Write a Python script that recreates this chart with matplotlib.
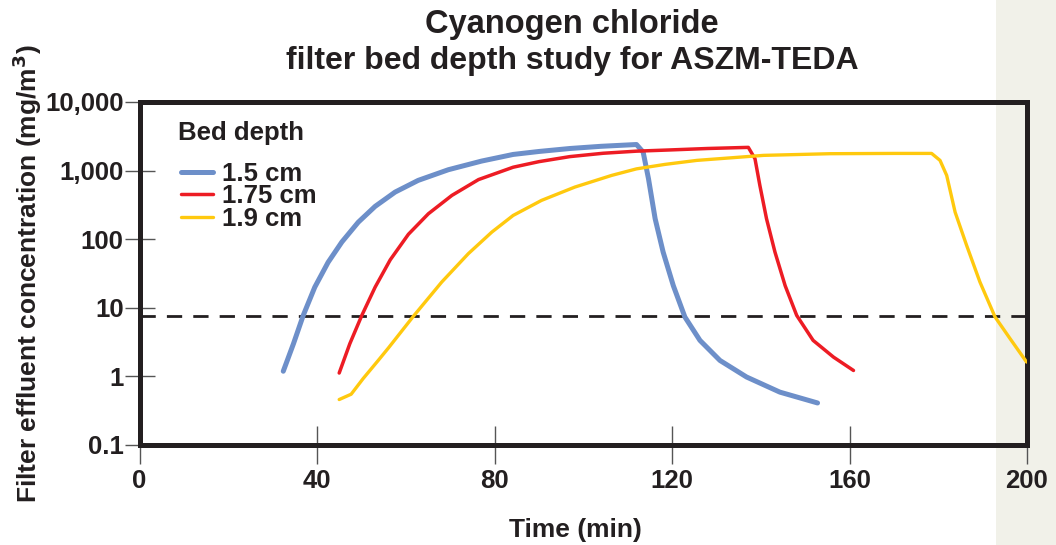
import numpy as np
import matplotlib
matplotlib.use("Agg")
import matplotlib.pyplot as plt
from matplotlib.patches import Rectangle

plt.rcParams['font.family'] = ['Liberation Sans', 'DejaVu Sans']
plt.rcParams['font.weight'] = 'bold'

# Data (time in min, concentration in mg/m3)
t_15 = [32.4, 34.7, 36.9, 39.5, 42.5, 45.6, 49.3, 53.1, 57.6, 62.8, 69.6, 77.1,
        84.2, 90.0, 97.0, 104.0, 112.0, 113.5, 114.7, 116.2, 118.0, 120.3,
        122.9, 126.3, 130.8, 136.8, 144.3, 152.8]
c_15 = [1.19, 3.0, 7.75, 20, 46, 91, 177, 301, 486, 720, 1030, 1377,
        1720, 1900, 2100, 2260, 2400, 1860, 762, 199, 65, 21,
        7.35, 3.35, 1.71, 0.98, 0.59, 0.41]

t_175 = [45.0, 47.4, 50.1, 53.1, 56.5, 60.6, 65.1, 70.4, 76.4, 84.2, 90.0,
         97.0, 104.5, 112.0, 119.5, 128.0, 137.2, 138.7, 139.8, 141.3, 143.2,
         145.5, 148.1, 151.8, 156.4, 160.9]
c_175 = [1.12, 3.0, 7.75, 20, 50, 118, 235, 435, 740, 1120, 1350,
         1600, 1790, 1920, 2000, 2100, 2180, 1490, 608, 199, 65,
         21, 7.75, 3.35, 1.91, 1.22]

t_19 = [45.0, 47.7, 50.4, 53.8, 56.1, 61.7, 68.1, 74.1, 79.4, 84.2,
        90.6, 98.1, 106.4, 112.0, 118.4, 125.6, 140.6, 155.6, 170.0, 178.5,
        180.4, 181.9, 183.8, 186.4, 189.4, 192.8, 196.2, 199.9]
c_19 = [0.46, 0.55, 0.93, 1.71, 2.6, 7.5, 23.7, 61.5, 127, 222,
        368, 575, 851, 1060, 1231, 1409, 1667, 1763, 1780, 1780,
        1409, 851, 248, 81, 23.7, 7.35, 3.54, 1.62]

threshold = 7.5
y_ticks = [0.1, 1, 10, 100, 1000, 10000]
y_labels = ['0.1', '1', '10', '100', '1,000', '10,000']
x_ticks = [0, 40, 80, 120, 160, 200]

W, H = 1056, 545
fig = plt.figure(figsize=(W / 100, H / 100), dpi=100)
fig.patch.set_facecolor('white')

# beige strip on the right edge, behind the axes
fig.patches.append(Rectangle((996 / W, 0), 1 - 996 / W, 1, transform=fig.transFigure,
                             facecolor='#f1f1e9', edgecolor='none', zorder=-5))

ax = fig.add_axes([139.5 / W, 1 - 445 / H, (1027 - 139.5) / W, (445 - 102) / H])
ax.set_facecolor('none')
ax.set_zorder(1)

ax.axhline(threshold, color='#231f20', lw=2.0, dashes=(5.5, 4), zorder=2)

ax.plot(t_15, c_15, color='#6d8fc9', lw=3.6, label='1.5 cm',
        solid_joinstyle='round', solid_capstyle='round', zorder=3)
ax.plot(t_175, c_175, color='#ed1c24', lw=2.5, label='1.75 cm',
        solid_joinstyle='round', solid_capstyle='round', zorder=3)
ax.plot(t_19, c_19, color='#ffc90e', lw=2.4, label='1.9 cm',
        solid_joinstyle='round', solid_capstyle='round', zorder=3)

ax.set_yscale('log')
ax.set_ylim(0.1, 10000)
ax.set_xlim(0, 200)
ax.yaxis.set_major_locator(matplotlib.ticker.FixedLocator(y_ticks))
ax.yaxis.set_minor_locator(matplotlib.ticker.NullLocator())
ax.set_yticklabels(y_labels)
ax.set_xticks(x_ticks)

for s in ax.spines.values():
    s.set_linewidth(3.6)
    s.set_color('#231f20')

ax.tick_params(axis='both', direction='inout', color='#555555', width=1.0,
               labelsize=18.5, labelcolor='#231f20')
ax.tick_params(axis='y', length=21, pad=1)
ax.tick_params(axis='x', length=28, pad=3)

ax.set_xlabel('Time (min)', fontsize=19, fontweight='bold', color='#231f20')
ax.xaxis.set_label_coords(0.4907, -0.213)
ax.set_ylabel('Filter effluent concentration (mg/m$^\\mathbf{3}$)', fontsize=19,
              fontweight='bold', color='#231f20')
ax.yaxis.set_label_coords(-0.108, 0.5)

# legend: title as its own text, entries below it
ax.text(0.0434, 0.9096, 'Bed depth', transform=ax.transAxes, ha='left', va='center',
        fontsize=18.5, fontweight='bold', color='#231f20')
leg = ax.legend(loc='upper left', bbox_to_anchor=(0.0468, 0.826),
                frameon=False, fontsize=18.5, handlelength=1.25,
                handletextpad=0.35, labelspacing=-0.06, borderaxespad=0, borderpad=0)
for txt in leg.get_texts():
    txt.set_color('#231f20')

fig.text(572 / W, 1 - 25 / H, 'Cyanogen chloride', ha='center', va='center',
         fontsize=23.5, fontweight='bold', color='#231f20')
fig.text(572 / W, 1 - 61 / H, 'filter bed depth study for ASZM-TEDA', ha='center',
         va='center', fontsize=23, fontweight='bold', color='#231f20')

fig.savefig('out.png', dpi=100)
